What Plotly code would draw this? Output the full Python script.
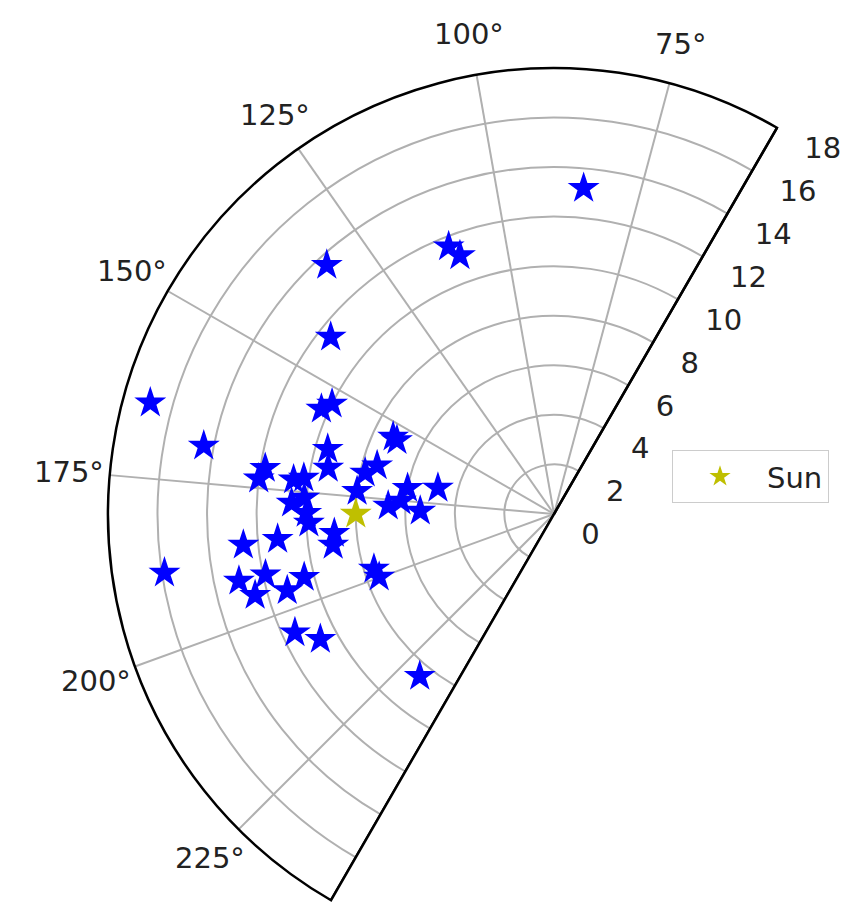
import math
import plotly.graph_objects as go

# Object positions (distance, angle in degrees)
obj_r = [13.2, 11.6, 11.1, 13.6, 11.5, 16.9, 14.4, 10.3, 10.0, 7.2, 7.0, 9.5, 9.3,
         11.8, 12.0, 10.6, 10.2, 10.6, 10.0, 9.9, 7.8, 7.4, 8.0, 6.0, 4.8, 6.7, 5.4,
         6.2, 10.1, 8.9, 9.0, 12.6, 11.2, 15.9, 13.0, 11.9, 12.5, 11.2, 10.4, 7.6,
         7.5, 11.5, 10.7, 8.5]
obj_theta = [84.8, 111.5, 110.0, 132.4, 141.6, 164.6, 169.0, 155.7, 153.6, 154.4,
             154.9, 164.0, 168.5, 171.0, 173.2, 172.5, 171.8, 177.6, 179.8, 182.1,
             167.7, 164.7, 173.4, 170.0, 167.4, 177.2, 178.7, 175.1, 176.3, 185.0,
             188.0, 185.7, 185.2, 188.6, 192.0, 191.9, 195.2, 196.0, 194.2, 197.0,
             199.8, 204.6, 208.2, 230.4]

sun_r = [8.0]
sun_theta = [180.0]
sun_label = "Sun"

sector = [60, 240]
radial_range = [0, 18]
radial_ticks = [0, 2, 4, 6, 8, 10, 12, 14, 16, 18]
angular_ticks = [75, 100, 125, 150, 175, 200, 225]
angular_ticktext = [f"{t}°" for t in angular_ticks]

W, H = 864, 902
FONT = dict(family="DejaVu Sans", size=29, color="#222222")

# polar geometry in figure pixels (centre and outer radius)
CX, CY, R = 546, 506, 446
LABEL_PAD = 41

lo, hi = math.radians(sector[0]), math.radians(sector[1])
dom_x = [(CX - R) / W, (CX + R * max(math.cos(lo), math.cos(hi), 0)) / W]
dom_y = [1 - (CY - R * min(math.sin(lo), math.sin(hi), 0)) / H, 1 - (CY - R) / H]

fig = go.Figure()

# sector edge at the far side (frame line)
fig.add_trace(go.Scatterpolar(
    r=radial_range, theta=[sector[1], sector[1]], mode="lines",
    line=dict(color="black", width=2.5), showlegend=False, hoverinfo="skip"))

fig.add_trace(go.Scatterpolar(
    r=obj_r, theta=obj_theta, mode="markers",
    marker=dict(symbol="star", size=24, color="#0000ff", line=dict(width=0)),
    showlegend=False))

fig.add_trace(go.Scatterpolar(
    r=sun_r, theta=sun_theta, mode="markers", name=sun_label,
    marker=dict(symbol="star", size=24, color="#bfbf00", line=dict(width=0))))

# angular tick labels, centred outside the arc (matplotlib style)
annotations = []
for t, txt in zip(angular_ticks, angular_ticktext):
    a = math.radians(t)
    px = CX + (R + LABEL_PAD) * math.cos(a)
    py = CY - (R + LABEL_PAD) * math.sin(a)
    annotations.append(dict(
        text=txt, x=px / W, y=1 - py / H, xref="paper", yref="paper",
        xanchor="center", yanchor="middle", showarrow=False, font=FONT))

fig.update_layout(
    width=W, height=H,
    margin=dict(l=0, r=0, t=0, b=0),
    paper_bgcolor="white",
    font=FONT,
    annotations=annotations,
    polar=dict(
        domain=dict(x=dom_x, y=dom_y),
        sector=sector,
        bgcolor="white",
        radialaxis=dict(
            range=radial_range, tickvals=radial_ticks, angle=sector[0],
            side="clockwise", showline=True, linecolor="black", linewidth=2.5,
            gridcolor="#b0b0b0", gridwidth=1.5,
            ticks="outside", ticklen=10, tickcolor="rgba(0,0,0,0)",
            tickfont=FONT, tickangle=60),
        angularaxis=dict(
            direction="counterclockwise", rotation=0, thetaunit="degrees",
            tickmode="array", tickvals=angular_ticks, ticktext=angular_ticktext,
            showticklabels=False,
            showline=True, linecolor="black", linewidth=2.5,
            gridcolor="#b0b0b0", gridwidth=1.5, ticks=""),
    ),
    legend=dict(
        x=664 / W, y=1 - 442 / H, xanchor="left", yanchor="top",
        bgcolor="white", bordercolor="#cccccc", borderwidth=1,
        font=FONT, itemwidth=84),
)

fig.write_html("out.html")
